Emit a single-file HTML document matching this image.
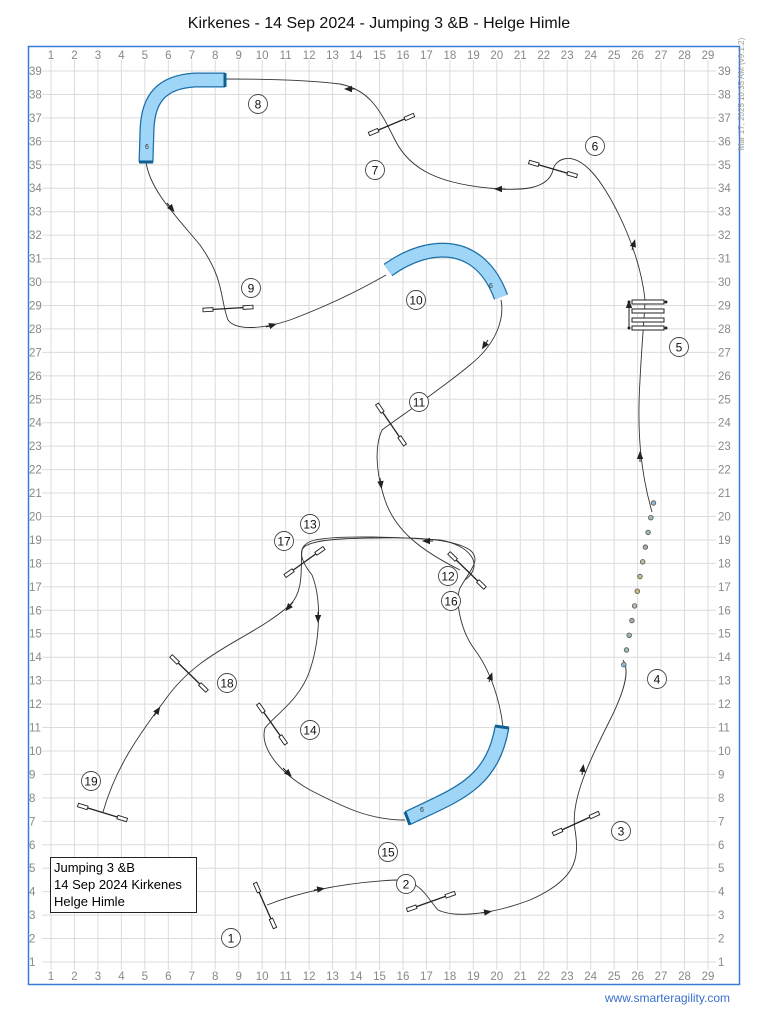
<!DOCTYPE html>
<html><head><meta charset="utf-8"><style>
body{margin:0;background:#fff;width:758px;height:1024px;overflow:hidden}
svg{display:block}
text{font-family:"Liberation Sans",sans-serif}
</style></head><body>
<svg width="758" height="1024" viewBox="0 0 758 1024" xmlns="http://www.w3.org/2000/svg">
<defs>
<marker id="a" viewBox="0 0 10 10" refX="5" refY="5" markerWidth="8" markerHeight="8" orient="auto"><path d="M0,1 L10,5 L0,9 z" fill="#222"/></marker>
</defs>
<text x="379" y="28" font-size="16" text-anchor="middle" fill="#111">Kirkenes - 14 Sep 2024 - Jumping 3 &amp;B - Helge Himle</text>
<rect x="28.5" y="46.5" width="711" height="938" fill="none" stroke="#3a7bd5" stroke-width="1.5"/>
<g id="grid" stroke="#dcdcdc" stroke-width="1"></g>
<g id="lbl" font-size="11.5" fill="#888"></g>
<text transform="translate(744,94) rotate(-90)" font-size="8" fill="#999" text-anchor="middle">Mar 17, 2025 10:35 AM (v9.1.2)</text>
<text x="730" y="1002" font-size="12" fill="#3a6fd0" text-anchor="end">www.smarteragility.com</text>

<g fill="none" stroke="#333" stroke-width="0.9">
<path d="M267,905 C300,892 340,883 395,880 C420,880 425,895 438,910 C455,918 490,915 530,900 C575,880 580,860 575,830 C570,800 590,760 610,720 C625,690 630,670 623,660"/>
<path d="M652,512 C640,470 637,430 640,380 C642,340 645,310 645,300 C640,250 610,190 590,170 C570,150 555,160 553,170 C548,190 520,190 500,189 C440,185 410,170 395,140 C380,110 370,90 340,84 C300,79 250,79 226,79"/>
<path d="M146,162 C150,190 175,215 200,245 C225,280 220,300 228,320 C235,330 260,330 290,320 C330,305 360,290 386,275"/>
<path d="M501,300 C505,320 495,345 470,365 C440,390 395,420 382,430 C375,445 375,470 385,500 C395,530 420,550 460,570"/>
<path d="M465,580 C485,565 470,545 440,540 C400,537 340,535 315,540 C295,545 300,560 312,575 C322,600 320,640 310,670 C300,700 275,715 265,728 C260,745 275,770 310,790 C345,808 370,820 405,820"/>
<path d="M503,727 C500,700 490,670 475,650 C460,630 455,600 460,588 C470,570 482,560 470,550 C455,540 420,537 380,538 C340,538 305,540 302,550 C300,565 305,590 290,605 C250,640 200,650 165,700 C135,740 115,770 103,812"/>
</g>
<g fill="none" stroke="#222" stroke-width="1" marker-end="url(#a)">
<path d="M355,89 L348,89"/><path d="M505,189 L498,189"/><path d="M632,250 L634,243"/>
<path d="M167,203 L172,209"/><path d="M266,327 L273,325"/><path d="M488,340 L484,346"/>
<path d="M380,478 L381,485"/><path d="M433,541 L426,541"/><path d="M293,602 L288,608"/>
<path d="M318,612 L318,619"/><path d="M154,716 L158,710"/><path d="M283,768 L289,774"/>
<path d="M489,682 L491,676"/><path d="M582,775 L583,768"/><path d="M640,462 L640,455"/>
<path d="M314,890 L321,889"/><path d="M481,913 L488,912"/>
</g>

<g fill="none" stroke-linecap="butt">
<path d="M225,80 L195,80 C160,82 148,100 147,130 L146,162" stroke="#1a6fa8" stroke-width="15"/>
<path d="M225,80 L195,80 C160,82 148,100 147,130 L146,162" stroke="#9fd6f7" stroke-width="12.5"/>
<path d="M388,270 C430,240 480,240 501,297" stroke="#1a6fa8" stroke-width="15"/>
<path d="M388,270 C430,240 480,240 501,297" stroke="#9fd6f7" stroke-width="12.5"/>
<path d="M502,727 C492,785 455,795 408,818" stroke="#1a6fa8" stroke-width="15"/>
<path d="M502,727 C492,785 455,795 408,818" stroke="#9fd6f7" stroke-width="12.5"/>
</g>
<g stroke="#0d5f94" stroke-width="3"><line x1="225" y1="73" x2="225" y2="87"/><line x1="139" y1="162" x2="153" y2="162"/><line x1="495" y1="726" x2="509" y2="728"/><line x1="405" y1="812" x2="410" y2="825"/></g>
<g font-size="7" fill="#333" text-anchor="middle"><text x="147" y="149">6</text><text x="491" y="288">6</text><text x="422" y="812">6</text></g>

<g id="jumps" stroke="#222"></g>

<g stroke="#222" fill="#fff" stroke-width="1">
<rect x="632" y="300" width="32" height="4"/><rect x="632" y="309" width="32" height="4"/><rect x="632" y="318" width="32" height="4"/><rect x="632" y="326" width="32" height="4"/>
<line x1="629" y1="327" x2="629" y2="304" marker-end="url(#a)"/>
</g>
<g fill="#222"><circle cx="629" cy="302" r="1.5"/><circle cx="666" cy="302" r="1.5"/><circle cx="629" cy="328" r="1.5"/><circle cx="666" cy="328" r="1.5"/></g>

<g id="weave" stroke="#555" stroke-width="0.8"></g>

<g id="nums" font-size="12" text-anchor="middle" fill="#111"></g>

<rect x="50.5" y="857.5" width="146" height="55" fill="#fff" stroke="#222"/>
<text x="54" y="872" font-size="13">Jumping 3 &amp;B</text>
<text x="54" y="889" font-size="13">14 Sep 2024 Kirkenes</text>
<text x="54" y="906" font-size="13">Helge Himle</text>
</svg>
<script>
var NS="http://www.w3.org/2000/svg";
function el(p,t,a,txt){var e=document.createElementNS(NS,t);for(var k in a)e.setAttribute(k,a[k]);if(txt!=null)e.textContent=txt;document.getElementById(p).appendChild(e);return e;}
var dx=23.464,dy=23.447;
for(var i=0;i<29;i++){var x=51+i*dx;el("grid","line",{x1:x,y1:60,x2:x,y2:970});el("lbl","text",{x:x,y:59,"text-anchor":"middle"},i+1);el("lbl","text",{x:x,y:980,"text-anchor":"middle"},i+1);}
for(var r=1;r<=39;r++){var y=962-(r-1)*dy;el("grid","line",{x1:42,y1:y,x2:716,y2:y});el("lbl","text",{x:29,y:y+4},r);el("lbl","text",{x:718,y:y+4},r);}
var J=[[369,134,414,115],[529,162,577,176],[203,310,253,307],[377,404,405,445],[449,553,485,588],[285,576,324,548],[171,656,207,691],[258,704,286,744],[78,805,127,820],[553,834,599,813],[407,910,455,893],[255,883,275,928]];
J.forEach(function(j){var x1=j[0],y1=j[1],x2=j[2],y2=j[3];el("jumps","line",{x1:x1,y1:y1,x2:x2,y2:y2,"stroke-width":1.3});
var L=Math.hypot(x2-x1,y2-y1),ux=(x2-x1)/L,uy=(y2-y1)/L,ang=Math.atan2(uy,ux)*180/Math.PI;
[[x1,y1],[x2-ux*10,y2-uy*10]].forEach(function(p){el("jumps","rect",{x:0,y:-1.8,width:10,height:3.6,fill:"#fff","stroke-width":0.9,transform:"translate("+p[0]+","+p[1]+") rotate("+ang+")"});});});
var cols=["#8fb9d8","#9bb","#9bb","#aaa","#bba","#cb8","#cb8","#bba","#aaa","#9bb","#9bb","#8fb9d8"];
for(var k=0;k<12;k++){el("weave","circle",{cx:653.5-k*2.7,cy:503+k*14.7,r:2.3,fill:cols[k]});}
var N=[[1,231,938],[2,406,884],[3,621,831],[4,657,679],[5,679,347],[6,595,146],[7,375,170],[8,258,104],[9,251,288],[10,416,300],[11,419,402],[12,448,576],[13,310,524],[14,310,730],[15,388,852],[16,451,601],[17,284,541],[18,227,683],[19,91,781]];
N.forEach(function(n){el("nums","circle",{cx:n[1],cy:n[2],r:9.5,fill:"#fff",stroke:"#444","stroke-width":0.9});el("nums","text",{x:n[1],y:n[2]+4.5},n[0]);});
</script>
</body></html>
